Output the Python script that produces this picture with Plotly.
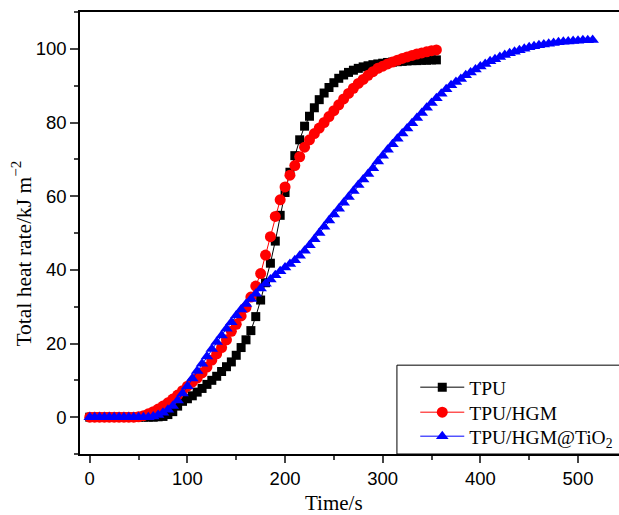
import plotly.graph_objects as go

# ---- data ----
time_tpu = list(range(0, 360, 5))
tpu = [0, 0, 0, 0, 0, 0, 0, 0, 0, 0, 0, 0, 0, 0,
       0.1, 0.2, 0.7, 1.5, 3.0, 4.3, 5.0, 5.8, 6.8, 7.8, 8.9, 10.0, 11.1, 12.4, 13.7, 15.0,
       16.8, 18.9, 21.0, 23.5, 27.3, 31.8, 36.5, 41.8, 47.8, 54.8, 61.0, 66.5, 71.0, 75.3,
       79.0, 81.7, 84.0, 86.2, 88.0, 89.5, 90.8, 92.0, 92.9, 93.6, 94.2, 94.7, 95.1, 95.4,
       95.7, 95.9, 96.1, 96.3, 96.4, 96.5, 96.6, 96.7, 96.8, 96.8, 96.9, 96.9, 97.0, 97.0]

time_hgm = list(range(0, 360, 5))
hgm = [0, 0, 0, 0, 0, 0, 0, 0, 0, 0,
       0.1, 0.4, 0.9, 1.5, 2.2, 3.0, 3.9, 4.9, 6.0, 7.2, 8.4, 9.5, 10.6, 12.0, 13.6, 15.5,
       17.2, 18.9, 21.0, 23.3, 25.2, 27.5, 29.8, 32.6, 35.6, 39.0, 44.0, 49.0, 54.5, 59.0,
       62.5, 65.7, 68.3, 70.7, 73.3, 75.3, 77.0, 78.5, 80.0, 81.6, 83.2, 84.8, 86.4, 87.9,
       89.3, 90.6, 91.7, 92.8, 93.8, 94.7, 95.3, 95.9, 96.4, 96.9, 97.4, 97.8, 98.2, 98.6,
       98.9, 99.2, 99.5, 99.7]

time_tio2 = list(range(0, 520, 5))
tio2 = [0, 0, 0, 0, 0, 0, 0, 0, 0, 0, 0, 0, 0,
        0.2, 0.6, 1.2, 2.0, 3.0, 4.5, 6.4, 8.4, 10.5, 12.5, 14.5, 16.5, 18.5, 20.4, 22.2,
        24.0, 25.8, 27.6, 29.2, 30.7, 32.1, 33.5, 34.9, 36.2, 37.4, 38.5, 39.6, 40.6, 41.6,
        42.6, 43.8, 45.2, 46.7, 48.3, 50.0, 51.7, 53.4, 55.0, 56.6, 58.2, 59.8, 61.4, 63.0,
        64.5, 66.0, 67.6, 69.4, 71.0, 72.6, 74.1, 75.6, 77.0, 78.4, 79.8, 81.2, 82.6, 84.0,
        85.3, 86.6, 87.8, 89.0, 90.1, 91.0, 91.8, 92.8, 93.6, 94.4, 95.2, 95.9, 96.6, 97.2,
        97.8, 98.3, 98.8, 99.2, 99.6, 100.0, 100.4, 100.7, 101.0, 101.2, 101.4, 101.6,
        101.8, 101.9, 102.0, 102.1, 102.2, 102.3, 102.3, 102.4]

names = ["TPU", "TPU/HGM", "TPU/HGM@TiO<sub>2</sub>"]
colors = ["#000000", "#ff0000", "#0000ff"]
symbols = ["square", "circle", "triangle-up"]
sizes = [9, 11, 11]
legend_ids = ["legend", "legend2", "legend3"]
legend_y = [0.1946, 0.138, 0.0837]

x_ticks = [0, 100, 200, 300, 400, 500]
y_ticks = [0, 20, 40, 60, 80, 100]

serif = "Liberation Serif, Times New Roman"

fig = go.Figure()
for xs, ys, n, c, s, sz, lg in zip([time_tpu, time_hgm, time_tio2], [tpu, hgm, tio2],
                                   names, colors, symbols, sizes, legend_ids):
    fig.add_trace(go.Scatter(x=xs, y=ys, name=n, mode="lines+markers", legend=lg,
                             line=dict(color=c, width=1),
                             marker=dict(symbol=s, size=sz, color=c, line=dict(width=0))))

legend_common = dict(x=0.622, xanchor="left", yanchor="top",
                     font=dict(family=serif, size=19.5, color="black"),
                     bgcolor="rgba(0,0,0,0)", borderwidth=0, itemwidth=44)

tickfont = dict(family="Liberation Sans, Arial", size=18.5, color="black")
fig.update_layout(
    width=619, height=515,
    margin=dict(l=80, r=0, t=12, b=61, autoexpand=False),
    paper_bgcolor="white", plot_bgcolor="white",
    showlegend=True,
    legend=dict(y=legend_y[0], **legend_common),
    legend2=dict(y=legend_y[1], **legend_common),
    legend3=dict(y=legend_y[2], **legend_common),
    xaxis=dict(range=[-10, 542], tickvals=x_ticks, ticks="outside", ticklen=7, tickwidth=1.5,
               showline=True, linewidth=1.5, linecolor="black", mirror=True,
               showgrid=False, zeroline=False, tickfont=tickfont,
               minor=dict(dtick=50, tick0=0, ticks="outside", ticklen=4, tickwidth=1.5,
                          showgrid=False)),
    yaxis=dict(range=[-10, 110], tickvals=y_ticks, ticks="outside", ticklen=8, tickwidth=1.5,
               showline=True, linewidth=1.5, linecolor="black", mirror=False,
               showgrid=False, zeroline=False, tickfont=tickfont,
               minor=dict(dtick=10, tick0=0, ticks="outside", ticklen=4, tickwidth=1.5,
                          showgrid=False)),
    shapes=[dict(type="rect", xref="paper", yref="paper", x0=0.588, x1=1.05, y0=0, y1=0.201,
                 line=dict(color="black", width=1), fillcolor="white", layer="below")],
    annotations=[
        dict(text="Total heat rate/kJ m<sup>\u22122</sup>", xref="paper", yref="paper",
             x=-0.1076, y=0.4536, xanchor="center", yanchor="middle", textangle=-90,
             showarrow=False, font=dict(family=serif, size=21.5, color="black")),
        dict(text="Time/s", xref="paper", yref="paper", x=0.4712, y=-0.111,
             xanchor="center", yanchor="middle", showarrow=False,
             font=dict(family=serif, size=21, color="black")),
    ],
)

fig.write_html("out.html", config={"displayModeBar": False},
               post_script="document.body.style.margin='0px';document.body.style.overflow='hidden';")
